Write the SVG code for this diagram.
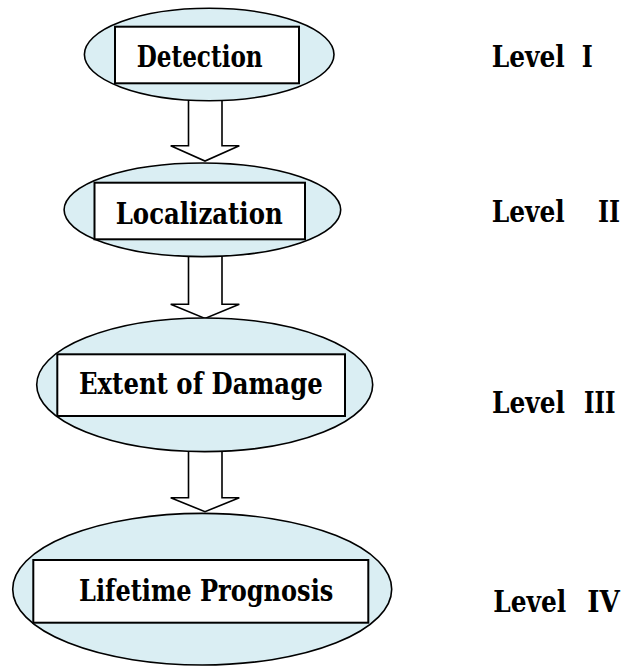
<svg xmlns="http://www.w3.org/2000/svg" width="624" height="666" viewBox="0 0 624 666">
<style>
.bg{fill:#ffffff}
.ell{fill:#DAEEF3;stroke:#000;stroke-width:1.6}
.box{fill:#ffffff;stroke:#000;stroke-width:2}
.arr{fill:#ffffff;stroke:#000;stroke-width:1.6;stroke-linejoin:miter}
.t{font-family:'DejaVu Serif','Liberation Serif',serif;font-weight:bold;font-size:29px;fill:#000}
</style>
<rect class="bg" x="0" y="0" width="624" height="666"/>
<g id="connectors">
<polygon class="arr" points="188.5,90 188.5,145.7 170.7,145.7 205,161 239.3,145.7 222,145.7 222,90"/>
<polygon class="arr" points="188.5,245 188.5,304.3 170.7,304.3 205,318.5 239.3,304.3 222,304.3 222,245"/>
<polygon class="arr" points="188.5,440 188.5,497.7 170.7,497.7 205,511.7 239.3,497.7 222,497.7 222,440"/>
</g>
<g id="node-detection">
<ellipse class="ell" cx="209.2" cy="54.5" rx="124.8" ry="46.2"/>
<rect class="box" x="115" y="26.7" width="184" height="56.6"/>
<text class="t" x="136.7" y="66.7" textLength="126" lengthAdjust="spacingAndGlyphs">Detection</text>
</g>
<g id="node-localization">
<ellipse class="ell" cx="202.4" cy="209.8" rx="138.3" ry="46.8"/>
<rect class="box" x="94.5" y="182.7" width="210.5" height="56.6"/>
<text class="t" x="115.7" y="224" textLength="167" lengthAdjust="spacingAndGlyphs">Localization</text>
</g>
<g id="node-extent">
<ellipse class="ell" cx="204.7" cy="384.8" rx="168" ry="66.8"/>
<rect class="box" x="57.3" y="354.3" width="287.7" height="61.7"/>
<text class="t" x="79" y="394.3" textLength="243.7" lengthAdjust="spacingAndGlyphs">Extent of Damage</text>
</g>
<g id="node-lifetime">
<ellipse class="ell" cx="202.2" cy="589.2" rx="189.5" ry="75.8"/>
<rect class="box" x="33.3" y="560" width="335" height="62.7"/>
<text class="t" x="79" y="601" textLength="254.3" lengthAdjust="spacingAndGlyphs">Lifetime Prognosis</text>
</g>
<g id="level-labels">
<text class="t" x="491.7" y="66.7"><tspan textLength="73" lengthAdjust="spacingAndGlyphs">Level</tspan><tspan x="581.7" textLength="11" lengthAdjust="spacingAndGlyphs">I</tspan></text>
<text class="t" x="491.7" y="221.7"><tspan textLength="73" lengthAdjust="spacingAndGlyphs">Level</tspan><tspan x="598" textLength="22" lengthAdjust="spacingAndGlyphs">II</tspan></text>
<text class="t" x="492" y="412.7"><tspan textLength="73" lengthAdjust="spacingAndGlyphs">Level</tspan><tspan x="584" textLength="31.5" lengthAdjust="spacingAndGlyphs">III</tspan></text>
<text class="t" x="493.3" y="611.7"><tspan textLength="73" lengthAdjust="spacingAndGlyphs">Level</tspan><tspan x="587.3" textLength="32.5" lengthAdjust="spacingAndGlyphs">IV</tspan></text>
</g>
</svg>
